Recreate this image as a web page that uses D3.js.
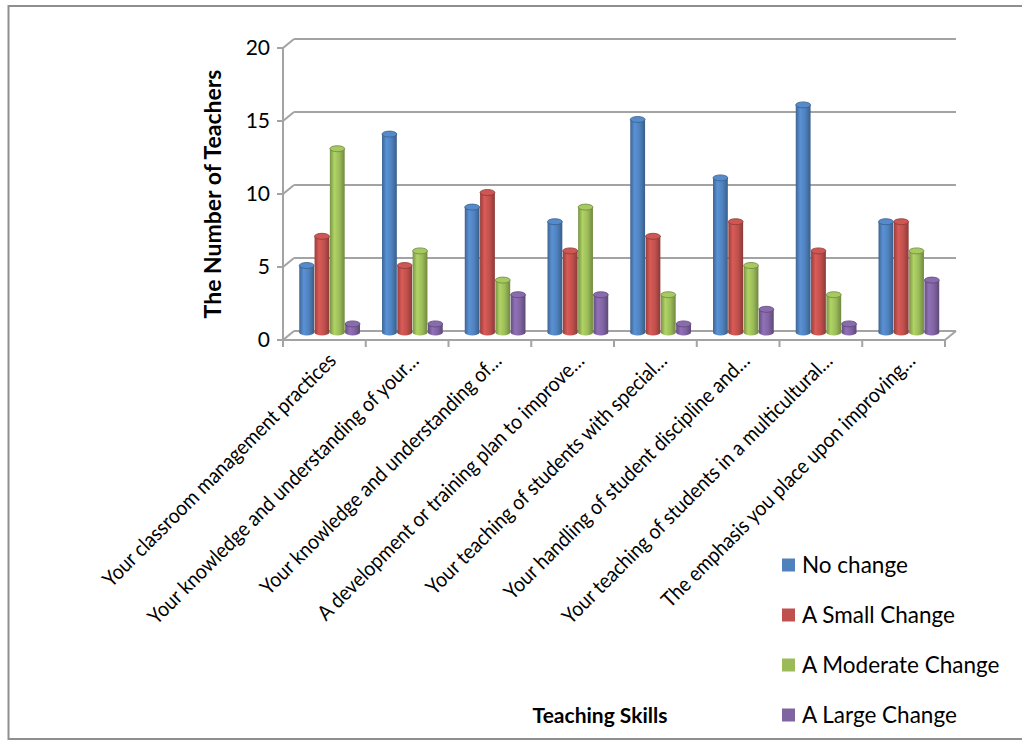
<!DOCTYPE html>
<html>
<head>
<script src="https://d3js.org/d3.v7.min.js"></script>
<title>Teaching Skills</title>
<style>
  body { margin: 0; background: #fff; }
  text { font-family: Lato, "Open Sans", sans-serif; fill: #000; }
</style>
</head>
<body>
<svg width="1022" height="743"></svg>
<script>
const categories = [
  "Your classroom management practices",
  "Your knowledge and understanding of your\u2026",
  "Your knowledge and understanding of\u2026",
  "A development or training plan to improve\u2026",
  "Your teaching of students with special\u2026",
  "Your handling of student discipline and\u2026",
  "Your teaching of students in a multicultural\u2026",
  "The emphasis you place upon improving\u2026"
];
const seriesNames = ["No change", "A Small Change", "A Moderate Change", "A Large Change"];
const noChange = [5, 14, 9, 8, 15, 11, 16, 8];
const smallChange = [7, 5, 10, 6, 7, 8, 6, 8];
const moderateChange = [13, 6, 4, 9, 3, 5, 3, 6];
const largeChange = [1, 1, 3, 3, 1, 2, 1, 4];
const yTicks = [0, 5, 10, 15, 20];
const colors = ["#4f81bd", "#c0504d", "#9bbb59", "#8064a2"];

const seriesValues = [noChange, smallChange, moderateChange, largeChange];

const svg = d3.select("svg");
const left = 283, right = 945, floorY = 340;
const depthX = 11, depthY = -9;

// outer border
svg.append("rect")
  .attr("x", 8.5).attr("y", 6).attr("width", 1030).attr("height", 733)
  .attr("fill", "none").attr("stroke", "#8f8f8f").attr("stroke-width", 2);

const y = d3.scaleLinear().domain([0, 20]).range([floorY, 48]);
const x0 = d3.scaleBand().domain(categories).range([left, right]).paddingInner(0.26).paddingOuter(0.13);
const x1 = d3.scaleBand().domain(seriesNames).range([0, x0.bandwidth()]);
const step = x0.step();

// gradients for cylinders
const defs = svg.append("defs");
colors.forEach(function(c, i) {
  const g = defs.append("linearGradient").attr("id", "cyl" + i)
    .attr("x1", "0%").attr("x2", "100%").attr("y1", "0%").attr("y2", "0%");
  const base = d3.color(c);
  g.append("stop").attr("offset", "0%").attr("stop-color", base.darker(0.7));
  g.append("stop").attr("offset", "30%").attr("stop-color", base.brighter(0.35));
  g.append("stop").attr("offset", "65%").attr("stop-color", base);
  g.append("stop").attr("offset", "100%").attr("stop-color", base.darker(0.9));
});

const grid = svg.append("g").attr("stroke", "#a3a3a3").attr("stroke-width", 2).attr("fill", "none");

// back wall gridlines + diagonal stubs
yTicks.forEach(function(t) {
  grid.append("line")
    .attr("x1", left + depthX).attr("x2", right + depthX)
    .attr("y1", y(t) + depthY).attr("y2", y(t) + depthY);
  grid.append("line")
    .attr("x1", left).attr("y1", y(t))
    .attr("x2", left + depthX).attr("y2", y(t) + depthY);
  grid.append("line")
    .attr("x1", left - 6).attr("x2", left)
    .attr("y1", y(t)).attr("y2", y(t));
});
// front vertical axis
grid.append("line").attr("x1", left).attr("x2", left).attr("y1", y(20)).attr("y2", floorY + 6);
// floor
grid.append("line").attr("x1", left).attr("x2", right).attr("y1", floorY).attr("y2", floorY);
grid.append("line").attr("x1", right).attr("y1", floorY).attr("x2", right + depthX).attr("y2", floorY + depthY);
// category ticks
d3.range(categories.length + 1).forEach(function(i) {
  grid.append("line")
    .attr("x1", left + i * step).attr("x2", left + i * step)
    .attr("y1", floorY).attr("y2", floorY + 7);
});

// y tick labels
svg.append("g").selectAll("text").data(yTicks).join("text")
  .attr("x", 270).attr("y", function(d) { return y(d); })
  .attr("dy", "0.35em").attr("text-anchor", "end")
  .style("font-size", "21px")
  .text(function(d) { return d; });

// bars (cylinders at mid depth)
const midX = depthX / 2, midY = depthY / 2;
const bw = x1.bandwidth() - 0.5;
const ry = 3;
const groups = svg.append("g").selectAll("g").data(categories).join("g")
  .attr("transform", function(d) { return "translate(" + (x0(d) + midX) + "," + midY + ")"; });

groups.each(function(cat, ci) {
  const g = d3.select(this);
  seriesNames.forEach(function(s, si) {
    const v = seriesValues[si][ci];
    const bx = x1(s);
    const top = y(v) + ry;
    const base = y(0) - ry;
    const dark = d3.color(colors[si]).darker(0.9);
    g.append("ellipse")
      .attr("cx", bx + bw / 2).attr("cy", base).attr("rx", bw / 2).attr("ry", ry)
      .attr("fill", "url(#cyl" + si + ")");
    g.append("rect")
      .attr("x", bx).attr("y", top).attr("width", bw).attr("height", Math.max(0, base - top))
      .attr("fill", "url(#cyl" + si + ")");
    g.append("ellipse")
      .attr("cx", bx + bw / 2).attr("cy", top).attr("rx", bw / 2).attr("ry", ry)
      .attr("fill", d3.color(colors[si]).brighter(0.2))
      .attr("stroke", dark).attr("stroke-width", 0.8);
  });
});

// category labels (slightly condensed, the original font is narrow)
svg.append("g").selectAll("text").data(categories).join("text")
  .attr("transform", function(d) {
    return "translate(" + (x0(d) + x0.bandwidth() / 2 + 13) + ",362) rotate(-45)";
  })
  .attr("text-anchor", "end")
  .style("font-size", "21px")
  .text(function(d) { return d; })
  .each(function() {
    const len = this.getComputedTextLength();
    d3.select(this).attr("textLength", len * 0.91).attr("lengthAdjust", "spacingAndGlyphs");
  });

// axis titles
svg.append("text")
  .attr("transform", "translate(213,194) rotate(-90)")
  .attr("text-anchor", "middle").attr("dy", "0.35em")
  .style("font-size", "23px").style("font-weight", "bold")
  .text("The Number of Teachers");

svg.append("text")
  .attr("x", 600).attr("y", 716).attr("dy", "0.35em")
  .attr("text-anchor", "middle")
  .style("font-size", "21px").style("font-weight", "bold")
  .text("Teaching Skills");

// legend
const legend = svg.append("g").selectAll("g").data(seriesNames).join("g")
  .attr("transform", function(d, i) { return "translate(782," + (565 + i * 50) + ")"; });
legend.append("rect")
  .attr("x", 0).attr("y", -6.5).attr("width", 13).attr("height", 13)
  .attr("fill", function(d, i) { return colors[i]; });
legend.append("text")
  .attr("x", 20).attr("dy", "0.35em")
  .style("font-size", "22.5px")
  .text(function(d) { return d; });
</script>
</body>
</html>
